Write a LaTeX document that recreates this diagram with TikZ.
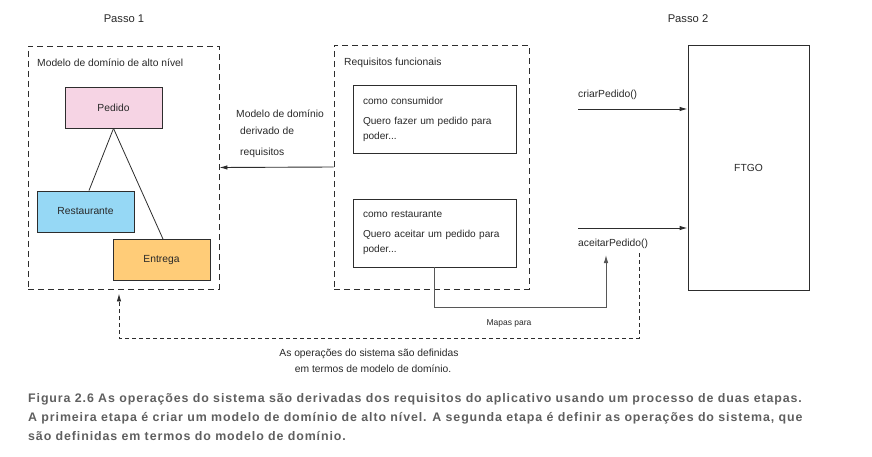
\documentclass[tikz,border=0pt]{standalone}
\usepackage{fontspec}
\setmainfont{Liberation Sans}
\newfontfamily\capfont[LetterSpace=7.2]{Liberation Sans}
\usetikzlibrary{arrows.meta}
\definecolor{txt}{RGB}{40,40,40}
\definecolor{ln}{RGB}{45,45,45}
\definecolor{pinkfill}{RGB}{246,212,228}
\definecolor{bluefill}{RGB}{150,216,245}
\definecolor{orangefill}{RGB}{255,204,120}
\definecolor{capgray}{RGB}{95,95,95}
\tikzset{
  lbl/.style={font=\fontsize{10.3}{12}\selectfont, text=txt, inner sep=0pt},
  entity/.style={draw=ln, line width=0.9pt, minimum width=97pt, minimum height=41pt,
    font=\fontsize{10.3}{12}\selectfont, text=txt},
  group/.style={draw=ln, line width=0.9pt, dash pattern=on 6pt off 4pt},
  reqbox/.style={draw=ln, line width=0.9pt, minimum width=163pt, minimum height=68pt,
    text width=143pt, align=left, inner xsep=10pt,
    font=\fontsize{10.1}{15}\selectfont, text=txt},
  arr/.style={ln, line width=0.9pt, -{Latex[length=8pt,width=4.5pt]}},
  link/.style={ln, line width=0.8pt}
}
\begin{document}
\begin{tikzpicture}[x=1pt,y=-1pt]
\useasboundingbox (0,0) rectangle (872,457);

% step headings
\node[lbl, font=\fontsize{11.2}{13}\selectfont] (p1) at (124,19) {Passo 1};
\node[lbl, font=\fontsize{11.2}{13}\selectfont] (p2) at (688,19) {Passo 2};

% step 1: high-level domain model
\node[group, minimum width=191pt, minimum height=243pt] (dom) at (123.5,167.5) {};
\node[lbl, anchor=west] (domt) at (37,63) {Modelo de domínio de alto nível};
\node[entity, fill=pinkfill] (ped) at (113.5,107.5) {Pedido};
\node[entity, fill=bluefill] (res) at (85.5,211.5) {Restaurante};
\node[entity, fill=orangefill] (ent) at (161.5,260) {Entrega};
\draw[link] (ped.south) -- ([xshift=3.5pt]res.north);
\draw[link] (ped.south) -- ([xshift=1.5pt]ent.north);

% functional requirements
\node[group, minimum width=195pt, minimum height=244pt] (req) at (431.5,167) {};
\node[lbl, anchor=west] (reqt) at (344,63) {Requisitos funcionais};
\node[reqbox] (r1) at (434.5,119) {como consumidor\\[5pt]Quero fazer um pedido para\\poder...};
\node[reqbox] (r2) at (434.5,233) {como restaurante\\[5pt]Quero aceitar um pedido para\\poder...};

% derivation of the domain model
\draw[arr] (req.west) -- (dom.east);
\node[lbl, align=left, anchor=north west] (der) at (236,110)
  {Modelo de domínio\\[4.5pt]\hspace{4pt}derivado de\\[9pt]\hspace{4pt}requisitos};

% step 2: the application and its operations
\node[draw=ln, line width=0.9pt, minimum width=121pt, minimum height=245pt,
  font=\fontsize{10.3}{12}\selectfont, text=txt] (ftgo) at (748.5,167.5) {FTGO};
\coordinate (c1) at (578,109);
\coordinate (c2) at (578,228);
\draw[arr] (c1) -- (c1 -| ftgo.west);
\draw[arr] (c2) -- (c2 -| ftgo.west);
\node[lbl, anchor=west] (crp) at (578,95) {criarPedido()};
\node[lbl, anchor=west] (acp) at (578,244) {aceitarPedido()};

% requirement mapped to the operation
\coordinate (mp) at (606,307);
\coordinate (mt) at (606,255);
\draw[arr, draw=ln!80] (r2.south) |- (mp) -- (mt);
\node[lbl, font=\fontsize{8.5}{10}\selectfont] (mapas) at (509,323) {Mapas para};

% operations defined in terms of the domain model
\coordinate (d0) at (639,253);
\coordinate (d1) at (639,338);
\coordinate (d2) at (119,338);
\draw[arr, dash pattern=on 4pt off 3pt, shorten >=4pt] (d0) -- (d1) -- (d2) -- (d2 |- dom.south);
\node[lbl, align=center] (ops) at (369,361)
  {As operações do sistema são definidas\\[4pt]\hspace{8pt}em termos de modelo de domínio.};

% caption
\node[anchor=north west, align=left, inner sep=0pt, text=capgray,
  font=\capfont\bfseries\fontsize{12.4}{19}\selectfont] (cap) at (28,393.5)
  {Figura 2.6 As operações do sistema são derivadas dos requisitos do aplicativo usando um processo de duas etapas.\\
   A primeira etapa é criar um modelo de domínio de alto nível. A segunda etapa é definir as operações do sistema, que\\
   são definidas em termos do modelo de domínio.};
\end{tikzpicture}
\end{document}
